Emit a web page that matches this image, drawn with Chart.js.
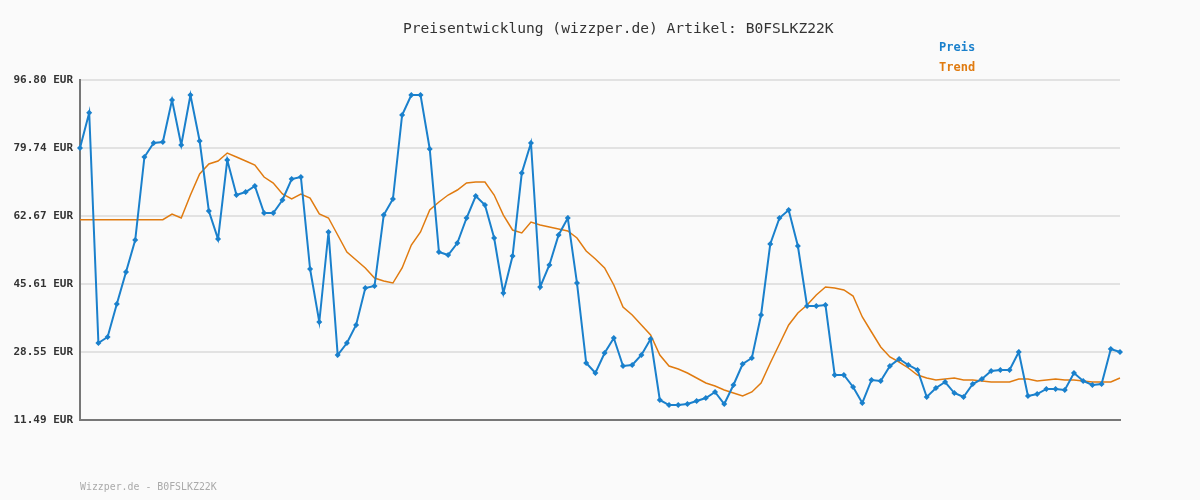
<!DOCTYPE html>
<html>
<head>
<meta charset="utf-8">
<script src="https://cdn.jsdelivr.net/npm/chart.js@4"></script>
<style>
  body { margin: 0; background: #fafafa; }
  #wrap { position: relative; width: 1200px; height: 500px; }
  .txt { position: absolute; font-family: "DejaVu Sans Mono", monospace; white-space: nowrap; }
</style>
</head>
<body>
<div id="wrap">
  <canvas id="chart" width="1200" height="500"></canvas>
  <div class="txt" style="left:403px;top:19px;font-size:14.6px;color:#333;">Preisentwicklung (wizzper.de) Artikel: B0FSLKZ22K</div>
  <div class="txt" style="left:939px;top:40px;font-size:12px;font-weight:bold;color:#1a80cc;">Preis</div>
  <div class="txt" style="left:939px;top:60px;font-size:12px;font-weight:bold;color:#e07b10;">Trend</div>
  <div class="txt" style="left:80px;top:481px;font-size:9.9px;color:#aaa;">Wizzper.de - B0FSLKZ22K</div>
</div>
<script>
// Price values (114 points)
const preis = [
  79.74, 88.59, 30.81, 32.32, 40.59, 48.62, 56.65, 77.48, 80.99, 81.24,
  91.78, 80.49, 93.03, 81.49, 63.93, 56.90, 76.72, 67.94, 68.70, 70.20,
  63.43, 63.43, 66.69, 71.96, 72.46, 49.38, 36.08, 58.66, 27.80, 30.81,
  35.33, 44.61, 45.11, 62.92, 66.94, 88.02, 93.03, 93.03, 79.49, 53.64,
  52.89, 55.90, 62.17, 67.69, 65.43, 57.15, 43.35, 52.64, 73.46, 80.99,
  44.86, 50.38, 57.91, 62.17, 45.86, 25.79, 23.28, 28.30, 32.06, 25.04,
  25.29, 27.80, 31.81, 16.51, 15.25, 15.25, 15.50, 16.26, 17.01, 18.52,
  15.50, 20.27, 25.54, 27.05, 37.84, 55.65, 62.17, 64.18, 55.15, 40.09,
  40.09, 40.34, 22.78, 22.78, 19.77, 15.76, 21.53, 21.28, 25.04, 26.80,
  25.29, 24.04, 17.26, 19.52, 21.02, 18.26, 17.26, 20.52, 21.78, 23.78,
  24.04, 24.04, 28.55, 17.51, 18.01, 19.27, 19.27, 19.02, 23.28, 21.28,
  20.27, 20.52, 29.30, 28.55
];
const trend = [
  61.75, 61.75, 61.75, 61.75, 61.75, 61.75, 61.75, 61.75, 61.75, 61.75,
  63.18, 62.17, 67.94, 73.21, 75.72, 76.47, 78.48, 77.48, 76.47, 75.47,
  72.46, 70.95, 68.19, 66.94, 68.19, 67.19, 63.18, 62.17, 57.91, 53.64,
  51.63, 49.63, 47.12, 46.37, 45.86, 49.63, 55.40, 58.66, 64.18, 66.19,
  67.94, 69.20, 70.95, 71.20, 71.20, 67.94, 62.92, 59.16, 58.41, 61.17,
  60.42, 59.91, 59.41, 58.91, 57.15, 53.89, 51.88, 49.63, 45.36, 39.84,
  37.84, 35.33, 32.82, 27.80, 25.04, 24.29, 23.28, 22.03, 20.77, 20.02,
  19.02, 18.26, 17.51, 18.52, 20.77, 25.79, 30.56, 35.33, 38.34, 40.34,
  42.85, 44.86, 44.61, 44.11, 42.60, 37.33, 33.57, 29.81, 27.30, 26.04,
  24.54, 22.78, 22.03, 21.53, 21.78, 22.03, 21.53, 21.53, 21.28, 21.02,
  21.02, 21.02, 21.78, 21.78, 21.28, 21.53, 21.78, 21.53, 21.53, 21.28,
  21.02, 21.02, 21.02, 22.03
];
const yTicks = [11.49, 28.55, 45.61, 62.67, 79.74, 96.80];
const labels = preis.map((_, i) => i + 1);

new Chart(document.getElementById('chart'), {
  type: 'line',
  data: {
    labels: labels,
    datasets: [{
      label: 'Preis',
      data: preis,
      borderColor: '#1a80cc',
      backgroundColor: '#1a80cc',
      borderWidth: 2,
      pointStyle: 'rectRot',
      pointRadius: 1.6,
      tension: 0
    }, {
      label: 'Trend',
      data: trend,
      borderColor: '#e07b10',
      borderWidth: 1.5,
      pointRadius: 0,
      tension: 0
    }]
  },
  options: {
    responsive: false,
    animation: false,
    layout: { padding: { top: 80, right: 80, bottom: 80, left: 0 } },
    plugins: { legend: { display: false }, tooltip: { enabled: false } },
    scales: {
      x: {
        offset: false,
        grid: { display: false },
        border: { color: '#777', width: 2 },
        ticks: { display: false },
        afterFit: (s) => { s.height = 0; }
      },
      y: {
        min: yTicks[0],
        max: yTicks[yTicks.length - 1],
        afterBuildTicks: (s) => { s.ticks = yTicks.map(v => ({ value: v })); },
        afterFit: (s) => { s.width = 80; },
        grid: { color: '#e2e2e2', lineWidth: 2, drawTicks: false },
        border: { color: '#777', width: 2 },
        ticks: {
          padding: 7,
          color: '#333',
          font: { family: 'DejaVu Sans Mono', size: 11, weight: 'bold' },
          callback: (v) => v.toFixed(2) + ' EUR'
        }
      }
    }
  }
});
</script>
</body>
</html>
